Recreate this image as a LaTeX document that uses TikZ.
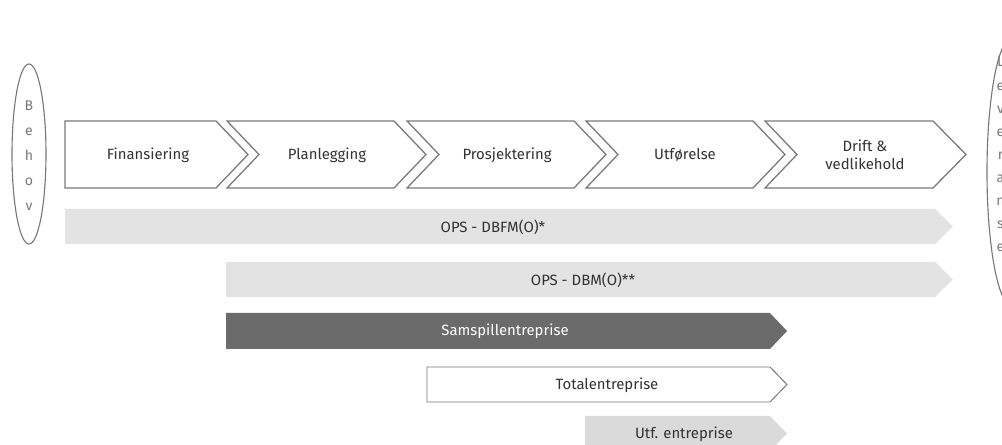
\documentclass[tikz,border=0pt]{standalone}
\usepackage{fontspec}
\setmainfont{Fira Sans}
\definecolor{edgegray}{HTML}{787878}
\definecolor{textgray}{HTML}{333333}
\definecolor{barlight}{HTML}{E3E3E3}
\definecolor{bardark}{HTML}{6B6B6B}
\definecolor{barutf}{HTML}{DADADA}

\begin{document}
\begin{tikzpicture}[x=0.025cm, y=-0.025cm,
      every node/.style={font=\fontsize{10.6}{12.7}\selectfont, text=textgray, inner sep=0pt},
      phase/.style={draw=edgegray, line width=0.9pt, fill=white, line join=miter},
      bar/.style={fill=barlight, draw=none},
      letters/.style={align=center, text=edgegray, font=\fontsize{10}{#1}\selectfont}]
    \useasboundingbox (0,0) rectangle (1002,445);
    \clip (0,0) rectangle (1002,445);
    % end points
    \draw[edgegray, line width=0.8pt] (29,154) ellipse [x radius=17, y radius=90];
    \node[letters=17.8] (behov) at (29,156) {B\\e\\h\\o\\v};
    \draw[edgegray, line width=0.8pt] (1012,172) ellipse [x radius=25, y radius=134];
    \node[letters=16.4, anchor=north] (leveranse) at (1000.5,57) {L\\e\\v\\e\\r\\a\\n\\s\\e};
    % phases
    \draw[phase] (65,121) -- (216,121) -- (248,154.5) -- (216,188) -- (65,188) -- cycle;
    \draw[phase] (227,121) -- (394,121) -- (426,154.5) -- (394,188) -- (227,188) -- (259,154.5) -- cycle;
    \draw[phase] (407,121) -- (574,121) -- (606,154.5) -- (574,188) -- (407,188) -- (439,154.5) -- cycle;
    \draw[phase] (586,121) -- (753,121) -- (785,154.5) -- (753,188) -- (586,188) -- (618,154.5) -- cycle;
    \draw[phase] (765,121) -- (933,121) -- (966,154.5) -- (933,188) -- (765,188) -- (797,154.5) -- cycle;
    \node (fin) at (148,155) {Finansiering};
    \node (plan) at (327,155) {Planlegging};
    \node (prosj) at (507,155) {Prosjektering};
    \node (utf) at (685,155) {Utførelse};
    \node[align=center] (drift) at (865,155) {Drift \&\\vedlikehold};
    % contract forms
    \fill[bar] (65,209) -- (935,209) -- (953,226.5) -- (935,244) -- (65,244) -- cycle;
    \fill[bar] (226,262) -- (935,262) -- (953,279.5) -- (935,297) -- (226,297) -- cycle;
    \fill[bar, fill=bardark] (226,313) -- (770,313) -- (787,331) -- (770,349) -- (226,349) -- cycle;
    \draw[phase, line width=0.7pt] (427,367) -- (770,367) -- (787,384.5) -- (770,402) -- (427,402) -- cycle;
    \fill[bar, fill=barutf] (585,416) -- (770,416) -- (787,433.5) -- (770,451) -- (585,451) -- cycle;
    \node (dbfm) at (493,227) {OPS - DBFM(O)*};
    \node (dbm) at (583,280) {OPS - DBM(O)**};
    \node[text=white] (samspill) at (505,331) {Samspillentreprise};
    \node (total) at (607,385) {Totalentreprise};
    \node (utfent) at (684,434) {Utf. entreprise};
\end{tikzpicture}
\end{document}
